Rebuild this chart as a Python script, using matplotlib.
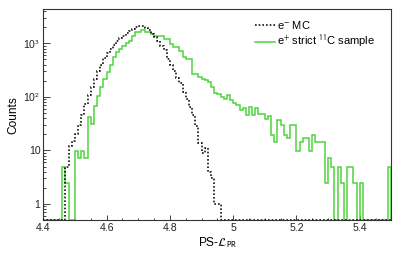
import numpy as np
import matplotlib
matplotlib.use("Agg")
import matplotlib.pyplot as plt
from matplotlib.ticker import FixedLocator, NullFormatter

plt.rcParams['font.family'] = ['Liberation Sans', 'DejaVu Sans']
plt.rcParams['mathtext.fontset'] = 'stixsans'

# ---- data ----
x_min, x_max, bin_width = 4.40, 5.50, 0.01

black_label = r"e$^{-}$ MC"
black_start = 4.47
black_counts = [5, 12, 15, 20, 30, 45, 75, 107, 150, 220,
                300, 400, 525, 650, 800, 950, 1100, 1250, 1400, 1550,
                1700, 1850, 2000, 2150, 2100, 1950, 1750, 1500, 1300, 1100,
                900, 750, 520, 390, 300, 230, 180, 125, 90, 65,
                45, 28, 14, 9, 11, 4, 3, 1, 1]

green_label = r"e$^{+}$ strict $^{11}$C sample"
green_start = 4.46
green_counts = [4.88, 2.44, 0, 0, 9.76, 7.32, 9.76, 7.32, 42, 31,
                68, 105, 150, 215, 290, 390, 550, 690, 780, 880,
                1000, 1130, 1400, 1620, 1620, 1750, 1620, 1620, 1520, 1400,
                1400, 1400, 1200, 1200, 980, 850, 850, 730, 550, 520,
                520, 270, 270, 235, 220, 205, 190, 155, 120, 115,
                100, 93, 107, 87, 76, 70, 56, 61, 45, 65,
                45, 63, 47, 47, 38, 44, 19.5, 14.6, 36.6, 29.3,
                19.5, 17.1, 29.3, 29.3, 9.76, 14.6, 17.1, 17.1, 9.76, 19.5,
                14.6, 14.6, 14.6, 2.44, 7.32, 4.88, 0, 4.88, 2.44, 0,
                4.88, 4.88, 2.44, 0, 2.44, 0, 0, 0, 0, 0,
                0, 0, 0, 4.88]

x_ticks = [4.4, 4.6, 4.8, 5.0, 5.2, 5.4]
x_tick_labels = ["4.4", "4.6", "4.8", "5", "5.2", "5.4"]
y_ticks = [1, 10, 100, 1000]
y_tick_labels = ["1", "10", r"10$^{2}$", r"10$^{3}$"]
y_lo, y_hi = 0.5, 4300

# ---- helpers ----
n_bins = int(round((x_max - x_min) / bin_width))
edges = x_min + bin_width * np.arange(n_bins + 1)

def full(start, counts):
    v = np.zeros(n_bins)
    i0 = int(round((start - x_min) / bin_width))
    v[i0:i0 + len(counts)] = counts
    return np.where(v > 0, v, y_lo)

fig = plt.figure(figsize=(3.99, 2.56), dpi=100)
ax = fig.add_axes([0.1085, 0.1406, 0.8725, 0.8223])

green = '#4fd43f'
ax.stairs(full(black_start, black_counts), edges, color='black', lw=1.1,
          linestyle=(0, (1.1, 1.3)), label=black_label, zorder=3)
ax.stairs(full(green_start, green_counts), edges, color=green, lw=1.1,
          label=green_label, zorder=2)

ax.set_yscale('log')
ax.set_xlim(x_min, x_max)
ax.set_ylim(y_lo, y_hi)

ax.xaxis.set_major_locator(FixedLocator(x_ticks))
ax.set_xticklabels(x_tick_labels)
ax.xaxis.set_minor_locator(FixedLocator(np.arange(4.45, 5.5, 0.05)))
ax.yaxis.set_major_locator(FixedLocator(y_ticks))
ax.set_yticklabels(y_tick_labels)
minors = [m * 10.0 ** d for d in range(-1, 4) for m in range(2, 10)]
ax.yaxis.set_minor_locator(FixedLocator([m for m in minors if y_lo <= m <= y_hi]))
ax.yaxis.set_minor_formatter(NullFormatter())

ax.tick_params(axis='both', which='both', direction='in', labelsize=7.6,
               colors='#222222', width=0.6)
ax.tick_params(axis='x', which='major', length=3.6, pad=2)
ax.tick_params(axis='x', which='minor', length=1.8)
ax.tick_params(axis='y', which='major', length=5, pad=2)
ax.tick_params(axis='y', which='minor', length=2.5)
for s in ax.spines.values():
    s.set_linewidth(0.8)
    s.set_color('#333333')

ax.set_xlabel(r"PS-$\mathcal{L}_{\mathrm{PR}}$", fontsize=8.6, labelpad=2)
ax.set_ylabel("Counts", fontsize=8.6, labelpad=3)

ax.legend(loc='upper left', frameon=False, fontsize=8, handlelength=1.8,
          handletextpad=0.25, borderpad=0, borderaxespad=0, labelspacing=0.3,
          bbox_to_anchor=(0.607, 0.955))

fig.savefig('out.png', dpi=100)
